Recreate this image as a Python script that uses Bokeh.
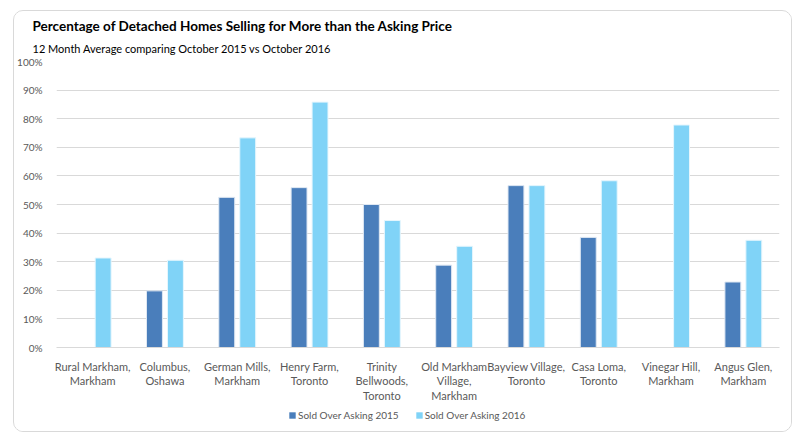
from bokeh.plotting import figure
from bokeh.layouts import column
from bokeh.models import (FactorRange, Range1d, Legend, LegendItem, Title,
                          ColumnDataSource, NumeralTickFormatter, FixedTicker)
from bokeh.transform import dodge
from bokeh.embed import file_html
from bokeh.resources import INLINE
import numpy as np

categories = ["Rural Markham,\nMarkham", "Columbus,\nOshawa", "German Mills,\nMarkham",
              "Henry Farm,\nToronto", "Trinity\nBellwoods,\nToronto", "Old Markham\nVillage,\nMarkham",
              "Bayview Village,\nToronto", "Casa Loma,\nToronto", "Vinegar Hill,\nMarkham",
              "Angus Glen,\nMarkham"]
sold_2015 = [np.nan, 0.198, 0.525, 0.559, 0.500, 0.288, 0.566, 0.385, np.nan, 0.229]
sold_2016 = [0.313, 0.305, 0.733, 0.858, 0.444, 0.354, 0.566, 0.583, 0.778, 0.375]
y_ticks = [0, 0.1, 0.2, 0.3, 0.4, 0.5, 0.6, 0.7, 0.8, 0.9, 1.0]
series_names = ["Sold Over Asking 2015", "Sold Over Asking 2016"]

FONT = "Lato"
C15, C16 = "#4a7ebb", "#80d3f7"
src = ColumnDataSource(dict(cat=categories, s15=sold_2015, s16=sold_2016))

p = figure(width=777, height=393, x_range=FactorRange(*categories, range_padding=0),
           y_range=Range1d(0, 1), output_backend="svg", toolbar_location=None,
           min_border_left=40, min_border_right=12, min_border_top=50, min_border_bottom=55)
p.outline_line_color = None
p.background_fill_color = "white"
p.border_fill_color = "white"

p.vbar(x=dodge("cat", -0.145, range=p.x_range), top="s15", width=0.22, source=src,
       fill_color=C15, line_color="#dfe8f3", line_width=1)
p.vbar(x=dodge("cat", 0.145, range=p.x_range), top="s16", width=0.22, source=src,
       fill_color=C16, line_color="#e6f6fd", line_width=1)

p.yaxis.ticker = FixedTicker(ticks=y_ticks)
p.yaxis.formatter = NumeralTickFormatter(format="0%")
p.yaxis.axis_line_color = None
p.yaxis.major_tick_line_color = None
p.yaxis.minor_tick_line_color = None
p.yaxis.major_label_text_font = FONT
p.yaxis.major_label_text_font_size = "10px"
p.yaxis.major_label_text_color = "#595959"
p.yaxis.major_label_standoff = 8

p.xaxis.axis_line_color = "#d9d9d9"
p.xaxis.major_tick_line_color = None
p.xaxis.minor_tick_line_color = None
p.xaxis.major_label_text_font = FONT
p.xaxis.major_label_text_font_size = "11px"
p.xaxis.major_label_text_color = "#595959"
p.xaxis.major_label_standoff = 6
p.xaxis.major_label_text_line_height = 1.12

p.xgrid.grid_line_color = None
p.ygrid.grid_line_color = "#d9d9d9"
p.ygrid.grid_line_width = 1

p.title.text = "Percentage of Detached Homes Selling for More than the Asking Price"
p.title.text_font = FONT
p.title.text_font_size = "13.5px"
p.title.text_font_style = "bold"
p.title.text_color = "#000000"
p.title.align = "left"
p.title.offset = -24
p.title.standoff = 0

p.add_layout(Title(text="12 Month Average comparing October 2015 vs October 2016",
                   text_font=FONT, text_font_style="normal", text_font_size="11px",
                   text_line_height=0.75,
                   text_color="#000000", align="left", offset=-24, standoff=13), "above")

# legend strip
lg = figure(width=777, height=27, x_range=Range1d(0, 1), y_range=Range1d(0, 1),
            output_backend="svg", toolbar_location=None,
            min_border_left=0, min_border_right=0, min_border_top=0, min_border_bottom=0)
lg.axis.visible = False
lg.grid.visible = False
lg.outline_line_color = None
lg.background_fill_color = "white"
lg.border_fill_color = "white"
nodata = ColumnDataSource(dict(x=[np.nan], top=[np.nan]))
g15 = lg.vbar(x="x", top="top", width=0.1, source=nodata, fill_color=C15, line_color=None)
g16 = lg.vbar(x="x", top="top", width=0.1, source=nodata, fill_color=C16, line_color=None)
legend = Legend(items=[LegendItem(label=series_names[0], renderers=[g15]),
                       LegendItem(label=series_names[1], renderers=[g16])],
                orientation="horizontal", location=(232, 10),
                label_text_font=FONT, label_text_font_size="10px", label_text_color="#595959",
                glyph_width=8, glyph_height=8, label_height=12, label_standoff=2, spacing=16,
                background_fill_alpha=0, border_line_color=None, padding=2, margin=0)
lg.add_layout(legend)

layout = column(p, lg, spacing=0,
                styles={"margin-left": "13px", "margin-top": "10px",
                        "border": "1px solid #d9d9d9", "border-radius": "10px",
                        "background-color": "white", "overflow": "hidden"})
open("out.html", "w").write(file_html(layout, INLINE))
